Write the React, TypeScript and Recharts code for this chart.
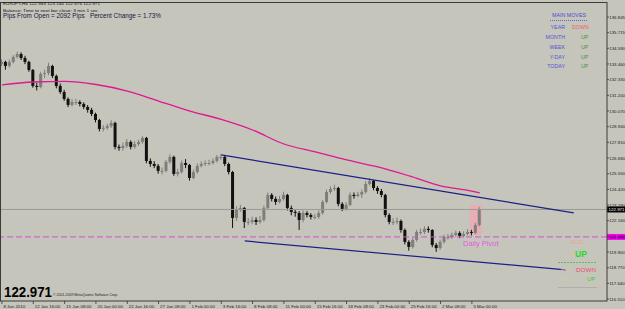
import React from 'react';
import {
  ComposedChart,
  Bar,
  Line,
  XAxis,
  YAxis,
  ReferenceLine,
  ReferenceArea,
  ReferenceDot
} from 'recharts';

// EURJPY H4, each point = two H4 bars
const firstOpen = 133.45;
const closes = [
  133.61, 133.32, 133.61, 133.97, 134.18, 133.89, 133.61, 133.03, 131.88, 131.80,
  132.74, 132.81, 133.32, 132.60, 131.88, 131.44, 130.94, 130.51, 130.72, 130.72,
  130.58, 130.36, 130.15, 129.86, 129.42, 128.78, 128.85, 128.99, 129.21, 127.48,
  127.40, 127.55, 127.84, 127.48, 127.69, 127.84, 128.13, 126.47, 126.25, 126.11,
  125.75, 125.75, 126.40, 126.76, 125.53, 125.67, 126.32, 126.18, 125.24, 125.67,
  126.11, 126.25, 126.32, 126.32, 126.47, 126.76, 126.76, 126.25, 125.67, 122.36,
  122.94, 123.08, 122.07, 122.07, 122.21, 122.07, 122.21, 123.08, 124.02, 123.73,
  123.51, 123.73, 124.02, 123.08, 122.79, 122.72, 122.21, 122.72, 122.57, 122.43,
  122.43, 122.72, 123.51, 124.23, 124.45, 124.52, 123.37, 123.01, 123.30, 124.02,
  123.94, 124.05, 124.23, 124.81, 125.03, 124.52, 124.30, 124.02, 122.57, 122.07,
  122.07, 122.14, 121.49, 120.63, 120.27, 120.77, 121.35, 121.35, 121.57, 121.49,
  120.41, 120.19, 120.63, 120.99, 120.99, 121.13, 121.28, 121.06, 121.20, 121.35,
  121.28, 121.85, 122.97
];
const highs = [
  133.80, 133.70, 133.78, 134.10, 134.35, 134.30, 134.05, 133.70, 133.10, 132.10,
  132.90, 133.05, 133.55, 133.40, 132.70, 132.05, 131.60, 131.05, 130.95, 130.95,
  130.85, 130.70, 130.50, 130.30, 129.95, 129.50, 129.05, 129.15, 129.40, 129.30,
  127.65, 127.80, 128.05, 127.95, 127.90, 128.00, 128.25, 128.20, 126.65, 126.45,
  126.25, 126.00, 126.55, 126.95, 126.85, 125.90, 126.50, 126.60, 126.25, 125.85,
  126.30, 126.45, 126.50, 126.55, 126.65, 126.90, 126.97, 126.85, 126.35, 125.75,
  123.20, 123.30, 123.15, 122.35, 122.45, 122.40, 122.50, 123.25, 124.20, 124.15,
  123.90, 123.95, 124.25, 124.10, 123.25, 123.00, 122.85, 122.90, 122.85, 122.70,
  122.65, 122.90, 123.65, 124.40, 124.65, 124.75, 124.60, 123.50, 123.50, 124.20,
  124.20, 124.25, 124.40, 125.00, 125.24, 125.10, 124.65, 124.45, 124.10, 122.70,
  122.35, 122.40, 122.25, 121.60, 120.75, 120.95, 121.50, 121.60, 121.75, 121.75,
  121.55, 120.55, 120.80, 121.15, 121.20, 121.30, 121.45, 121.40, 121.40, 121.55,
  121.50, 122.00, 123.14
];
const lows = [
  133.30, 133.05, 133.20, 133.50, 133.85, 133.75, 133.45, 132.90, 131.75, 131.55,
  131.70, 132.45, 132.65, 132.45, 131.70, 131.30, 130.80, 130.35, 130.40, 130.50,
  130.40, 130.20, 129.95, 129.70, 129.25, 128.60, 128.60, 128.70, 128.85, 127.30,
  127.20, 127.20, 127.40, 127.30, 127.35, 127.55, 127.70, 126.30, 126.05, 125.95,
  125.55, 125.50, 125.65, 126.25, 125.40, 125.35, 125.55, 125.95, 125.05, 125.15,
  125.55, 126.00, 126.10, 126.15, 126.20, 126.35, 126.55, 126.10, 125.50, 121.63,
  122.15, 122.80, 121.63, 121.85, 121.90, 121.85, 121.95, 122.10, 122.95, 123.55,
  123.30, 123.40, 123.60, 122.90, 122.55, 122.45, 121.49, 122.05, 122.40, 122.25,
  122.25, 122.30, 122.60, 123.40, 124.10, 124.30, 123.20, 122.85, 122.90, 123.20,
  123.75, 123.85, 123.80, 124.10, 124.70, 124.35, 124.10, 123.85, 122.40, 121.90,
  121.85, 121.90, 121.30, 120.45, 120.00, 120.15, 120.65, 121.15, 121.20, 121.30,
  120.25, 119.91, 120.05, 120.50, 120.80, 120.85, 121.00, 120.90, 120.95, 121.10,
  121.10, 121.20, 121.75
];

// moving average, read at every 8th point
const maIdx = [0, 8, 16, 24, 32, 40, 48, 56, 64, 72, 80, 88, 96, 104, 112, 120, 122];
const maVals = [
  131.95, 132.16, 132.20, 131.98, 131.51, 130.79, 130.07, 129.46, 128.70,
  127.69, 127.12, 126.54, 126.04, 125.39, 124.67, 124.30, 124.16
];

// trend channel
const upperIdx = [56, 146];
const upperVals = [126.9, 122.72];
const lowerIdx = [62, 144];
const lowerVals = [120.7, 118.61];

const xLabelIdx = [0, 8, 16, 24, 32, 40, 48, 56, 64, 72, 80, 88, 96, 104, 112, 120];
const xLabels = [
  '8 Jan 2010', '12 Jan 16:00', '15 Jan 08:00', '20 Jan 00:00', '22 Jan 16:00',
  '27 Jan 08:00', '1 Feb 00:00', '3 Feb 16:00', '8 Feb 08:00', '11 Feb 00:00',
  '15 Feb 16:00', '18 Feb 08:00', '23 Feb 00:00', '25 Feb 16:00', '2 Mar 08:00',
  '5 Mar 00:00'
];

const yTicks = [
  136.845, 135.715, 134.59, 133.46, 132.33, 131.2, 130.07, 128.94, 127.81, 126.68,
  125.55, 124.42, 123.29, 122.16, 121.03, 119.9, 118.77, 117.64, 116.51
];

const lastPrice = 122.971;
const pivot = 120.99;
const SLOTS = 155;

const BG = '#c6c5bb';
const FONT = '"Liberation Sans", Arial, sans-serif';

const rows = Array.from({ length: SLOTS }, (_, t) => {
  const r: any = { t };
  if (t < closes.length) {
    r.open = t === 0 ? firstOpen : closes[t - 1];
    r.close = closes[t];
    r.high = highs[t];
    r.low = lows[t];
    r.range = [lows[t], highs[t]];
  }
  return r;
});
maIdx.forEach((t, i) => (rows[t].ma = maVals[i]));
upperIdx.forEach((t, i) => (rows[t].up = upperVals[i]));
lowerIdx.forEach((t, i) => (rows[t].dn = lowerVals[i]));

const Candle = (props: any) => {
  const { x, y, width, height, payload } = props;
  if (!payload || payload.high == null) return null;
  const top = Math.min(y, y + height);
  const h = Math.abs(height);
  const k = payload.high === payload.low ? 0 : h / (payload.high - payload.low);
  const oy = top + (payload.high - payload.open) * k;
  const cy = top + (payload.high - payload.close) * k;
  const cx = x + width / 2;
  const col = payload.close >= payload.open ? '#7e7e7a' : '#111111';
  return (
    <g>
      <line x1={cx} x2={cx} y1={top} y2={top + h} stroke={col} strokeWidth={1} />
      <rect x={cx - 1.5} y={Math.min(oy, cy)} width={3} height={Math.max(1, Math.abs(cy - oy))} fill={col} />
    </g>
  );
};

const XTick = ({ x, y, payload }: any) => {
  const idx = xLabelIdx.indexOf(payload.value);
  return (
    <g>
      <line x1={x} x2={x} y1={y} y2={y + 3} stroke="#333" strokeWidth={0.8} />
      <text x={x + 1.5} y={y + 6.5} fontSize={4.4} fill="#222" fontFamily={FONT}>
        {xLabels[idx]}
      </text>
    </g>
  );
};

const YTick = ({ x, y, payload }: any) => (
  <g>
    <line x1={x} x2={x + 2} y1={y} y2={y} stroke="#333" strokeWidth={0.8} />
    <text x={x + 2.2} y={y + 1.6} fontSize={4.4} fill="#222" fontFamily={FONT}>
      {payload.value.toFixed(3)}
    </text>
  </g>
);

const PriceTag = ({ viewBox, text, bg, fg }: any) => {
  if (!viewBox) return null;
  const x = viewBox.x + viewBox.width;
  const y = viewBox.y;
  return (
    <g>
      <rect x={x} y={y - 3} width={18} height={6} fill={bg} />
      <text x={x + 1.6} y={y + 1.7} fontSize={4.4} fill={fg} fontFamily={FONT}>
        {text}
      </text>
    </g>
  );
};

const PivotText = ({ viewBox }: any) => {
  if (!viewBox) return null;
  return (
    <text x={viewBox.x - 1} y={viewBox.y + 9} fontSize={7.5} fill="#e05ce0" fontFamily={FONT}>
      Daily Pivot
    </text>
  );
};

const moves = [
  { label: 'YEAR', dir: 'DOWN' },
  { label: 'MONTH', dir: 'UP' },
  { label: 'WEEK', dir: 'UP' },
  { label: 'Y-DAY', dir: 'UP' },
  { label: 'TODAY', dir: 'UP' }
];

export default function App() {
  return (
    <div
      style={{
        position: 'fixed',
        left: 0,
        top: 0,
        width: 625,
        height: 309,
        background: BG,
        overflow: 'hidden',
        fontFamily: FONT
      }}
    >
      <ComposedChart width={625} height={309} data={rows} margin={{ top: 2, right: 0, bottom: 0, left: 0 }}>
        <XAxis
          dataKey="t"
          type="category"
          height={8}
          ticks={xLabelIdx}
          interval={0}
          tick={<XTick />}
          tickLine={false}
          tickSize={0}
          tickMargin={0}
          axisLine={false}
        />
        <YAxis
          orientation="right"
          width={18}
          domain={[116.37, 137.93]}
          allowDataOverflow
          ticks={yTicks}
          interval={0}
          tick={<YTick />}
          tickLine={false}
          tickSize={0}
          tickMargin={0}
          axisLine={false}
        />
        <ReferenceArea x1={120} x2={122} y1={121.13} y2={123.29} fill="#f2a6b4" fillOpacity={0.75} stroke="none" />
        <ReferenceLine
          y={pivot}
          stroke="#d250d2"
          strokeDasharray="6 3"
          label={<PriceTag text="120.990" bg="#ff00ff" fg="#5a005a" />}
        />
        <ReferenceLine
          y={lastPrice}
          stroke="#9a9a96"
          label={<PriceTag text="122.971" bg="#000000" fg="#ffffff" />}
        />
        <Bar dataKey="range" barSize={3} shape={<Candle />} isAnimationActive={false} />
        <Line
          dataKey="ma"
          type="monotone"
          stroke="#e0188f"
          strokeWidth={1.3}
          dot={false}
          connectNulls
          isAnimationActive={false}
        />
        <Line dataKey="up" type="linear" stroke="#1e1e88" strokeWidth={1.2} dot={false} connectNulls isAnimationActive={false} />
        <Line dataKey="dn" type="linear" stroke="#1e1e88" strokeWidth={1.2} dot={false} connectNulls isAnimationActive={false} />
        <ReferenceDot x={118} y={pivot} r={0} fill="none" stroke="none" label={<PivotText />} />
      </ComposedChart>

      <svg
        width={625}
        height={309}
        style={{ position: 'absolute', left: 0, top: 0, pointerEvents: 'none' }}
        fontFamily={FONT}
      >
        <rect x={0.5} y={2.5} width={606.5} height={298.5} fill="none" stroke="#3a3a3a" strokeWidth={1} />

        <text x={3} y={5} fontSize={4.3} fill="#111" textLength={97} lengthAdjust="spacingAndGlyphs">
          EURJPY,H4  122.943 123.144 122.676 122.971
        </text>
        <text x={3} y={11.5} fontSize={4.3} fill="#111" textLength={95} lengthAdjust="spacingAndGlyphs">
          Balance: Time to next bar close: 3 min 1 sec
        </text>
        <text x={3} y={18} fontSize={6.7} fill="#16163a" textLength={158} lengthAdjust="spacingAndGlyphs" style={{ whiteSpace: 'pre' }}>
          {'Pips From Open = 2092 Pips   Percent Change = 1.73%'}
        </text>

        <text x={552} y={16.5} fontSize={5.5} fill="#4848d8" textLength={34} lengthAdjust="spacingAndGlyphs">
          MAIN MOVES
        </text>
        <line x1={550} x2={588} y1={20.5} y2={20.5} stroke="#4848d8" strokeWidth={0.8} strokeDasharray="1 1" />
        {moves.map((m, i) => {
          const by = [28.5, 39, 48.5, 58.5, 68][i];
          return (
            <g key={m.label}>
              <text x={565} y={by} fontSize={5.3} fill="#5252d8" textAnchor="end">
                {m.label}
              </text>
              <text
                x={m.dir === 'UP' ? 581 : 572}
                y={by}
                fontSize={5.3}
                fill={m.dir === 'UP' ? '#4a904a' : '#e86464'}
              >
                {m.dir}
              </text>
            </g>
          );
        })}

        <text x={570} y={243.5} fontSize={5.3} fill="#e6a48c">10:02</text>
        <text x={575} y={256.5} fontSize={8.5} fontWeight="bold" fill="#22dd22">UP</text>
        <line x1={558} x2={597} y1={262.5} y2={262.5} stroke="#3cc03c" strokeWidth={0.8} strokeDasharray="2 1" />
        <text x={560} y={272} fontSize={5.3} fill="#d6c8b6">38%</text>
        <text x={576} y={272} fontSize={6} fill="#e8506c" textLength={20} lengthAdjust="spacingAndGlyphs">DOWN</text>
        <text x={560} y={281} fontSize={5.3} fill="#d6c8b6">54%</text>
        <text x={587} y={281} fontSize={6} fill="#30d030">UP</text>
        <line x1={558} x2={597} y1={287.5} y2={287.5} stroke="#a8a8a8" strokeWidth={0.8} />

        <text x={4} y={296.5} fontSize={14} fontWeight="bold" fill="#000" textLength={48} lengthAdjust="spacingAndGlyphs">
          122.971
        </text>
        <text x={53} y={296} fontSize={3.8} fill="#222" textLength={65} lengthAdjust="spacingAndGlyphs">
          © 2001-2009 MetaQuotes Software Corp.
        </text>
      </svg>
    </div>
  );
}
